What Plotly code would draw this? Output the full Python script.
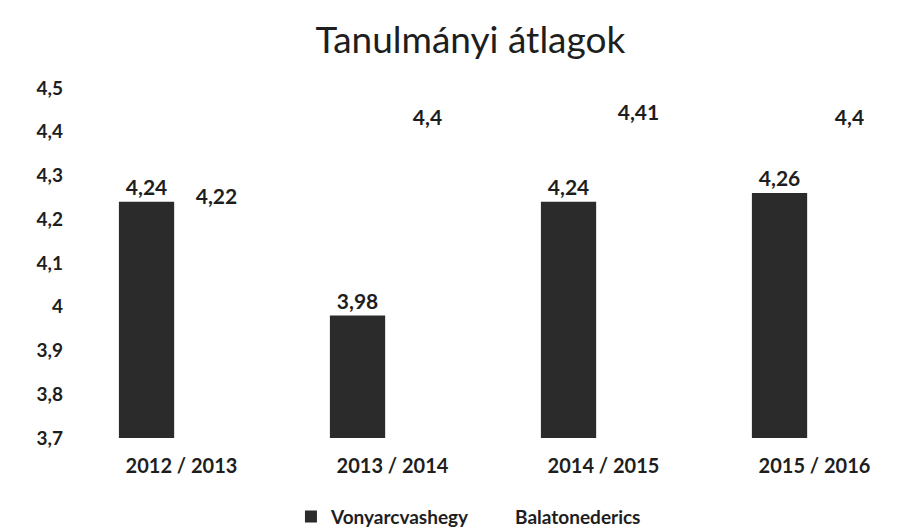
import plotly.graph_objects as go

categories = ["2012 / 2013", "2013 / 2014", "2014 / 2015", "2015 / 2016"]
vonyarcvashegy = [4.24, 3.98, 4.24, 4.26]
balatonederics = [4.22, 4.4, 4.41, 4.4]
y_ticks = [3.7, 3.8, 3.9, 4.0, 4.1, 4.2, 4.3, 4.4, 4.5]
y_tick_labels = ["3,7", "3,8", "3,9", "4", "4,1", "4,2", "4,3", "4,4", "4,5"]

def fmt(v):
    s = f"{v:.2f}".rstrip("0").rstrip(".")
    return s.replace(".", ",")

font_family = "Lato, 'Open Sans', sans-serif"
txt_color = "#1e1e1e"

fig = go.Figure()
fig.add_trace(go.Bar(
    name="Vonyarcvashegy", x=categories, y=[v - 3.7 for v in vonyarcvashegy], base=3.7,
    marker=dict(color="#2b2b2b", line=dict(width=0)),
    text=[fmt(v) for v in vonyarcvashegy], textposition="outside",
    textfont=dict(size=21, color=txt_color, family=font_family, weight="bold"),
    cliponaxis=False,
))
fig.add_trace(go.Bar(
    name="Balatonederics", x=categories, y=[v - 3.7 for v in balatonederics], base=3.7,
    marker=dict(color="white", line=dict(width=0)),
    text=[fmt(v) for v in balatonederics], textposition="outside",
    textfont=dict(size=21, color=txt_color, family=font_family, weight="bold"),
    cliponaxis=False,
))

fig.update_layout(
    width=912, height=531,
    paper_bgcolor="white", plot_bgcolor="white",
    margin=dict(l=68, r=0, t=80, b=101),
    barmode="group", bargap=0.337, bargroupgap=0.21,
    title=dict(text="Tanulmányi átlagok", x=0.507, xanchor="center", y=0.94, yanchor="middle",
               font=dict(size=37, color=txt_color, family=font_family)),
    font=dict(family=font_family, color=txt_color),
    showlegend=True,
    legend=dict(orientation="h", x=0.465, xanchor="center", y=-0.225, yanchor="middle",
                font=dict(size=19, color=txt_color, family=font_family, weight="bold"),
                itemwidth=30, traceorder="normal"),
)
fig.update_yaxes(range=[3.7, 4.5], tickvals=y_ticks, ticktext=y_tick_labels,
                 showgrid=False, zeroline=False, showline=False,
                 tickfont=dict(size=19, color=txt_color, family=font_family, weight="bold"),
                 ticklabelstandoff=12)
fig.update_xaxes(showgrid=False, showline=False, ticks="",
                 tickfont=dict(size=20, color=txt_color, family=font_family, weight="bold"),
                 ticklabelstandoff=14)

fig.write_html("out.html")
